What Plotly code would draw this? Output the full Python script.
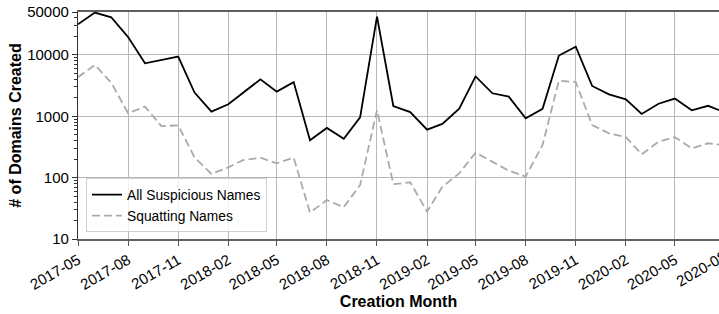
import plotly.graph_objects as go
import pandas as pd

months = [
    "2017-05-01", "2017-06-01", "2017-07-01", "2017-08-01", "2017-09-01", "2017-10-01", "2017-11-01", "2017-12-01",
    "2018-01-01", "2018-02-01", "2018-03-01", "2018-04-01", "2018-05-01", "2018-06-01", "2018-07-01", "2018-08-01",
    "2018-09-01", "2018-10-01", "2018-11-01", "2018-12-01",
    "2019-01-01", "2019-02-01", "2019-03-01", "2019-04-01", "2019-05-01", "2019-06-01", "2019-07-01", "2019-08-01",
    "2019-09-01", "2019-10-01", "2019-11-01", "2019-12-01",
    "2020-01-01", "2020-02-01", "2020-03-01", "2020-04-01", "2020-05-01", "2020-06-01", "2020-07-01", "2020-08-01",
]

all_suspicious = [
    31600, 49000, 41000, 19500, 7300, 8300, 9400, 2430,
    1190, 1570, 2450, 4000, 2520, 3600, 405, 645, 430, 960, 42000, 1470,
    1170, 605, 750, 1330, 4460, 2370, 2090, 927, 1320, 9750, 13600, 3120,
    2280, 1890, 1090, 1600, 1940, 1250, 1480, 1150,
]

squatting = [
    4330, 6870, 3530, 1120, 1435, 690, 710, 214,
    115, 147, 194, 211, 171, 211, 27, 43, 33, 76, 1260, 78,
    84, 28, 71, 117, 256, 182, 130, 104, 340, 3800, 3590, 720,
    527, 457, 240, 385, 457, 300, 363, 335,
]

y_tickvals = [10, 100, 1000, 10000, 50000]
y_ticktext = ["10", "100", "1000", "10000", "50000"]
y_minor_vals = [m * 10 ** e for e in range(1, 5) for m in range(2, 10) if m * 10 ** e < 50000]
last_tick_label = "2020-08"
last_tick_date = "2020-08-01"
x_range = ["2017-05-01", "2020-07-21"]

FONT = "Liberation Sans, Arial, sans-serif"

# paper position of the (off-range) last tick label
r0, r1 = pd.Timestamp(x_range[0]), pd.Timestamp(x_range[1])
last_paper_x = (pd.Timestamp(last_tick_date) - r0) / (r1 - r0)

fig = go.Figure()
fig.add_trace(go.Scatter(
    x=months, y=all_suspicious, mode="lines", name="All Suspicious Names",
    line=dict(color="black", width=1.8),
))
fig.add_trace(go.Scatter(
    x=months, y=squatting, mode="lines", name="Squatting Names",
    line=dict(color="#aaaaaa", width=1.8, dash="8px,4px"),
))

fig.update_layout(
    width=719, height=314,
    margin=dict(l=78, r=0, t=12, b=75),
    paper_bgcolor="white", plot_bgcolor="white",
    font=dict(family=FONT, size=15, color="black"),
    showlegend=True,
    legend=dict(
        x=0.0125, y=0.03, xanchor="left", yanchor="bottom",
        bgcolor="rgba(255,255,255,0.8)", bordercolor="#d0d0d0", borderwidth=1,
        font=dict(size=13.8), tracegroupgap=0, itemwidth=30,
    ),
    annotations=[dict(
        x=last_paper_x, xref="paper", y=0, yref="paper",
        text=last_tick_label, showarrow=False, textangle=-30,
        xanchor="right", yanchor="top", yshift=-6, xshift=7,
        font=dict(family=FONT, size=15, color="black"),
    )],
)

fig.update_xaxes(
    type="date", range=x_range, automargin=False,
    tick0="2017-05-01", dtick="M3", tickformat="%Y-%m", tickangle=-30,
    ticks="outside", ticklen=5, tickcolor="#555555",
    showgrid=True, gridcolor="#b8b8b8", gridwidth=1,
    showline=True, linecolor="#606060", linewidth=1.5, mirror=True,
    title=dict(text="<b>Creation Month</b>", font=dict(size=16), standoff=2),
    zeroline=False,
)
fig.update_yaxes(
    type="log", range=[1, 4.69897], automargin=False,
    tickvals=y_tickvals, ticktext=y_ticktext,
    ticks="outside", ticklen=5, tickcolor="#333333",
    minor=dict(tickvals=y_minor_vals, ticks="outside", ticklen=2.5, tickcolor="#333333",
               tickwidth=1, showgrid=False),
    showgrid=True, gridcolor="#b8b8b8", gridwidth=1,
    showline=True, linecolor="#333333", linewidth=1.2, mirror=False,
    title=dict(text="<b># of Domains Created</b>", font=dict(size=16), standoff=1),
    zeroline=False,
)

fig.write_html(
    "out.html",
    config={"displayModeBar": False},
    post_script="document.body.style.margin='0';",
)
